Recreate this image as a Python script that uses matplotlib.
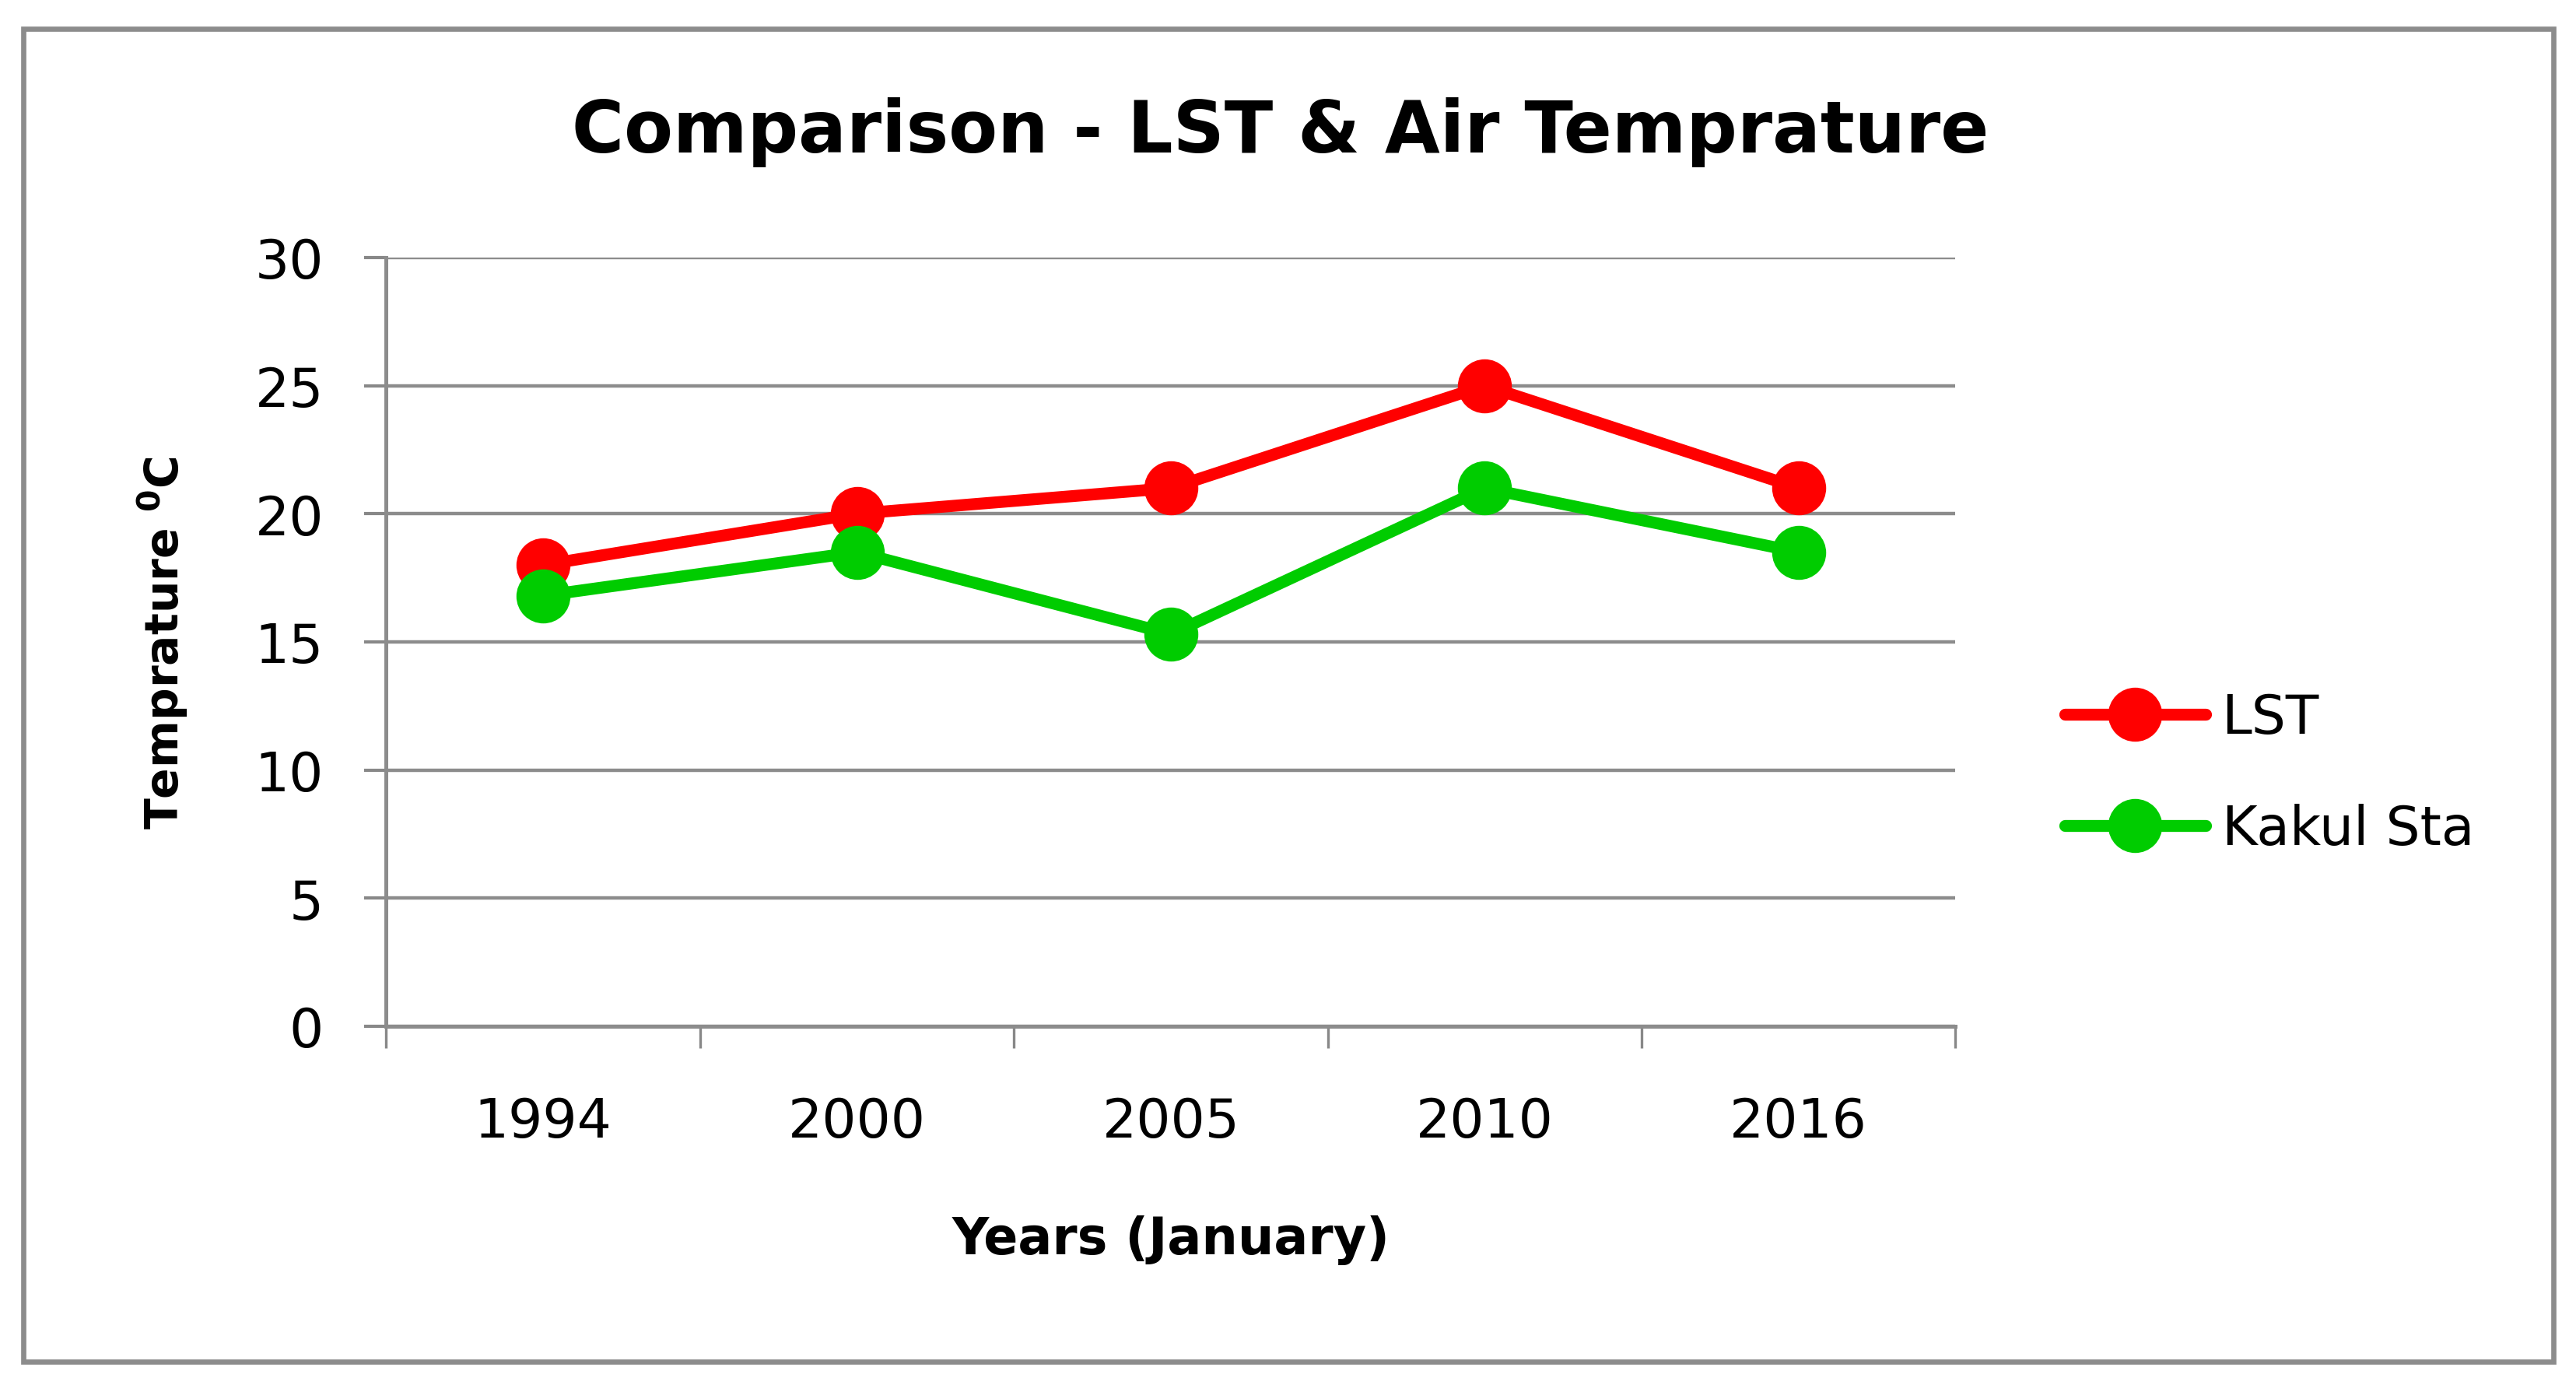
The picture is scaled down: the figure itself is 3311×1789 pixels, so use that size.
import numpy as np
import matplotlib.pyplot as plt
from matplotlib.patches import Rectangle

years = ["1994", "2000", "2005", "2010", "2016"]
lst = [18, 20, 21, 25, 21]
kakul = [16.8, 18.5, 15.3, 21, 18.5]
yticks = [0, 5, 10, 15, 20, 25, 30]

plt.rcParams['font.family'] = ['DejaVu Sans']

fig = plt.figure(figsize=(16.56, 8.95), dpi=200)
ax = fig.add_axes([0.1499, 0.2626, 0.609, 0.552])

x = np.arange(len(years))
ax.plot(x, lst, color='#ff0000', lw=5.5, marker='o', ms=24, label='LST', solid_capstyle='round')
ax.plot(x, kakul, color='#00cc00', lw=5.5, marker='o', ms=24, label='Kakul Sta', solid_capstyle='round')

ax.set_xlim(-0.5, len(years) - 0.5)
ax.set_ylim(0, 30)
ax.set_yticks(yticks)
ax.set_xticks(x)
ax.set_xticklabels(years)
ax.set_xticks(np.arange(-0.5, len(years), 1), minor=True)
ax.tick_params(axis='x', which='major', length=0, labelsize=25, pad=32)
ax.tick_params(axis='x', which='minor', length=10, width=1.2, color='#888888', direction='out')
ax.tick_params(axis='y', length=10, width=1.5, color='#888888', labelsize=25, pad=19)
ax.yaxis.grid(True, color='#8c8c8c', lw=1.6)
ax.set_axisbelow(True)
for s in ['top', 'right']:
    ax.spines[s].set_visible(False)
for s in ['left', 'bottom']:
    ax.spines[s].set_color('#8c8c8c')
    ax.spines[s].set_linewidth(1.8)

ax.set_xlabel('Years (January)', fontsize=23.5, fontweight='bold', labelpad=31)
ax.set_ylabel('Temprature $^{\\mathbf{0}}$C', fontsize=21, fontweight='bold', labelpad=30)

fig.text(0.497, 0.905, 'Comparison - LST & Air Temprature', fontsize=33, fontweight='bold',
         ha='center', va='center')

fig.legend(loc='center left', bbox_to_anchor=(0.7825, 0.444), frameon=False, fontsize=25,
           handlelength=2.6, handletextpad=0.3, labelspacing=1.1)

fig.patches.append(Rectangle((0.009, 0.022), 0.982, 0.957, transform=fig.transFigure,
                             fill=False, edgecolor='#8c8c8c', lw=2.4))

fig.savefig('out.png', dpi=200)
